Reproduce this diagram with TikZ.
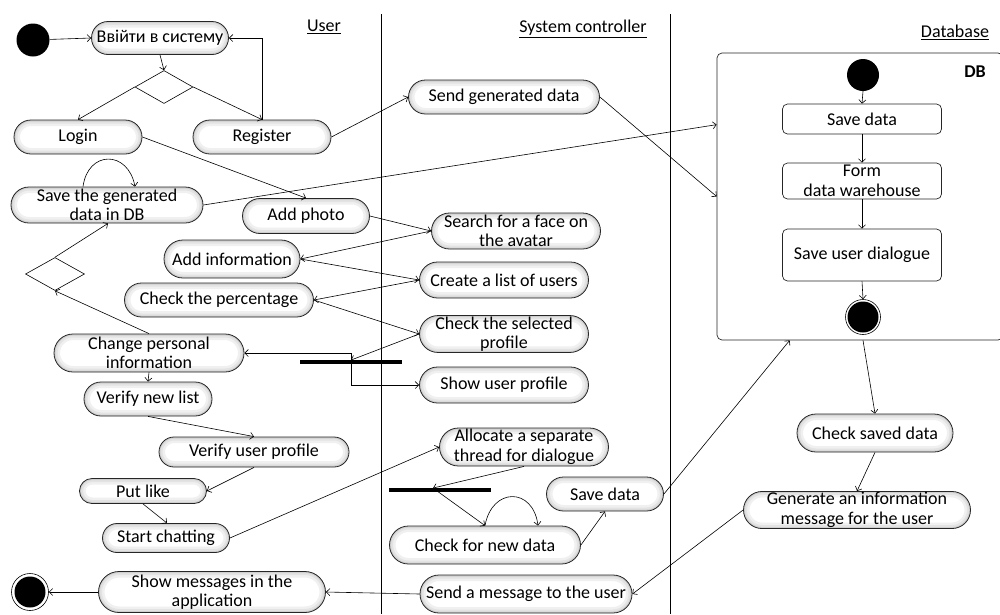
\documentclass[tikz,border=0pt]{standalone}
\usepackage{fontspec}
\setmainfont{Carlito}
\usetikzlibrary{shapes.misc,shapes.geometric,arrows.meta,calc}
\begin{document}
\begin{tikzpicture}[x=1pt,y=-1pt,
  every node/.style={font=\fontsize{18}{19.5}\selectfont},
  act/.style={rounded rectangle, draw=black!85, line width=0.8pt, fill=white, inner sep=1pt, align=center,
    path picture={
      \draw[gray!12, line width=12pt] let \p1=(path picture bounding box.north east), \p2=(path picture bounding box.south west), \n1={abs(\y1-\y2)/2} in [rounded corners=\n1] (\p2) rectangle (\p1);
      \draw[gray!22, line width=7pt] let \p1=(path picture bounding box.north east), \p2=(path picture bounding box.south west), \n1={abs(\y1-\y2)/2} in [rounded corners=\n1] (\p2) rectangle (\p1);
      \draw[gray!38, line width=3pt] let \p1=(path picture bounding box.north east), \p2=(path picture bounding box.south west), \n1={abs(\y1-\y2)/2} in [rounded corners=\n1] (\p2) rectangle (\p1);
    }},
  dbbox/.style={rectangle, rounded corners=5pt, draw=black!85, line width=0.7pt, fill=white, align=center, minimum width=159pt, inner sep=1pt},
  initst/.style={circle, fill=black, minimum size=33pt, inner sep=0pt},
  finst/.style={circle, draw=black, line width=0.6pt, fill=white, minimum size=37pt, inner sep=0pt, path picture={\fill[black] (path picture bounding box.center) circle (15.5pt);}},
  dec/.style={diamond, draw=black, line width=0.6pt, fill=white, inner sep=0pt},
  bar/.style={rectangle, fill=black, minimum height=3.5pt, inner sep=0pt},
  lane/.style={line width=0.7pt},
  flow/.style={line width=0.6pt, -{Straight Barb[length=3.5pt,width=7pt]}}
]
\useasboundingbox (0,0) rectangle (1000,614);

% swimlanes
\draw[lane] (381,14) -- (381,614);
\draw[lane] (670,14) -- (670,614);
\node (lu) at (324,27) {\underline{User}};
\node (ls) at (583,29) {\underline{System controller}};
\node (ld) at (955,32) {\underline{Database}};

% DB container
\node[draw=black!85, line width=0.7pt, rectangle, rounded corners=5pt, minimum width=286pt, minimum height=287pt, inner sep=0pt] (db) at (860,196.5) {};
\node[font=\fontsize{18}{19}\selectfont\bfseries] (dblab) at (975,72) {DB};

% User lane
\node[initst] (start) at (33,40) {};
\node[act, minimum width=139pt, minimum height=33pt] (enter) at (160,38) {Ввійти в систему};
\node[dec, minimum width=58pt, minimum height=33pt] (d1) at (164,87) {};
\node[act, minimum width=130pt, minimum height=34pt] (login) at (78,137) {Login};
\node[act, minimum width=140pt, minimum height=34pt] (reg) at (262,137) {Register};
\node[act, minimum width=194pt, minimum height=36pt] (savegen) at (107,205) {Save the generated\\data in DB};
\node[act, minimum width=129pt, minimum height=35pt] (photo) at (306,216) {Add photo};
\node[act, minimum width=138pt, minimum height=38pt] (addinfo) at (232,259) {Add information};
\node[act, minimum width=191pt, minimum height=34pt] (perc) at (219,300) {Check the percentage};
\node[dec, minimum width=59pt, minimum height=33pt] (d2) at (55,274) {};
\node[act, minimum width=192pt, minimum height=38pt] (chg) at (149,353) {Change personal\\information};
\node[act, minimum width=130pt, minimum height=34pt] (vlist) at (148,399) {Verify new list};
\node[act, minimum width=192pt, minimum height=30pt] (vprof) at (254,452) {Verify user profile};
\node[act, minimum width=129pt, minimum height=25pt] (like) at (143,491) {Put like};
\node[act, minimum width=129pt, minimum height=29pt] (chat) at (166,538) {Start chatting};
\node[act, minimum width=229pt, minimum height=41pt] (showmsg) at (212,592) {Show messages in the\\application};
\node[finst] (fin) at (30,592) {};

% System controller lane
\node[act, minimum width=193pt, minimum height=34pt] (send) at (504,97) {Send generated data};
\node[act, minimum width=171pt, minimum height=36pt] (face) at (516,231) {Search for a face on\\the avatar};
\node[act, minimum width=171pt, minimum height=36pt] (list) at (504,280) {Create a list of users};
\node[act, minimum width=171pt, minimum height=36pt] (chksel) at (504,334) {Check the selected\\profile};
\node[act, minimum width=171pt, minimum height=36pt] (showprof) at (504,385) {Show user profile};
\node[bar, minimum width=102pt] (bar1) at (351,362) {};
\node[act, minimum width=171pt, minimum height=38pt] (alloc) at (524,447) {Allocate a separate\\thread for dialogue};
\node[bar, minimum width=102pt] (bar2) at (440,490) {};
\node[act, minimum width=119pt, minimum height=34pt] (savec) at (605,494) {Save data};
\node[act, minimum width=193pt, minimum height=38pt] (chknew) at (485,545) {Check for new data};
\node[act, minimum width=214pt, minimum height=38pt] (sendmsg) at (526,594) {Send a message to the user};

% Database lane
\node[initst, minimum size=32pt] (dbstart) at (863,75) {};
\node[dbbox, minimum height=30pt] (dbsave) at (862,119) {Save data};
\node[dbbox, minimum height=36pt] (dbform) at (862,181) {Form\\data warehouse};
\node[dbbox, minimum height=52pt] (dbdlg) at (862,255) {Save user dialogue};
\node[finst, minimum size=35pt] (dbend) at (863,317) {};
\node[act, minimum width=158pt, minimum height=38pt] (chksaved) at (875,433) {Check saved data};
\node[act, minimum width=229pt, minimum height=37pt] (gen) at (857,510) {Generate an information\\message for the user};

% connectors
\draw[flow] (start) -- (enter.west);
\draw[flow] (reg.north) |- (enter.east);
\draw[flow] (enter.south) -- (d1.north);
\draw[flow] (d1.west) -- (login.north);
\draw[flow] (d1.east) -- (reg.north);
\draw[flow] (login.east) -- (photo.north);
\draw[flow] (reg.east) -- (send.west);
\draw[flow] ($(savegen.north)+(-24,0)$) .. controls (88,150) and (128,150) .. ($(savegen.north)+(28,0)$);
\draw[flow] (d2.north) -- ($(savegen.south)+(1,0)$);
\draw[flow] (chg.north) -- (d2.south);
\draw[flow] (photo.east) -- (face.west);
\draw[flow] (face.west) -- (addinfo.east);
\draw[flow] (addinfo.east) -- (list.west);
\draw[flow] (list.west) -- (perc.east);
\draw[flow] (perc.east) -- (chksel.west);
\draw[flow] (chksel.west) -- (bar1.north);
\draw[flow] (bar1.center) |- (chg.east);
\draw[flow] (bar1.center) |- (showprof.west);
\draw[flow] (chg.south) -- (vlist.north);
\draw[flow] (vlist.south) -- (vprof.north);
\draw[flow] (vprof.south) -- (like.east);
\draw[flow] (like.south) -- ($(chat.north)+(1,0)$);
\draw[flow] (chat.east) -- (alloc.west);
\draw[flow] (alloc.south) -- ($(bar2.north)+(-7,0)$);
\draw[flow] ($(bar2.north)+(-7,0)$) -- (chknew.north);
\draw[flow] (chknew.north) .. controls (492,487) and (533,487) .. ($(chknew.north)+(53,0)$);
\draw[flow] (chknew.east) -- (savec.south);
\draw[flow] (savec.east) -- ($(db.south west)+(73,0)$);
\draw[flow] (send.east) -- (db.west);
\draw[flow] (savegen.east) -- ($(db.north west)+(0,72)$);
\draw[flow] (dbend |- db.south) -- (chksaved.north);
\draw[flow] (chksaved.south) -- (gen.north);
\draw[flow] (gen.west) -- (sendmsg.east);
\draw[flow] (sendmsg.west) -- (showmsg.east);
\draw[flow] (showmsg.west) -- (fin.east);

% inside DB
\draw[flow] (dbstart.south) -- (dbsave.north);
\draw[flow] (dbsave.south) -- (dbform.north);
\draw[flow] (dbform.south) -- (dbdlg.north);
\draw[flow] (dbdlg.south) -- (dbend.north);
\end{tikzpicture}
\end{document}
